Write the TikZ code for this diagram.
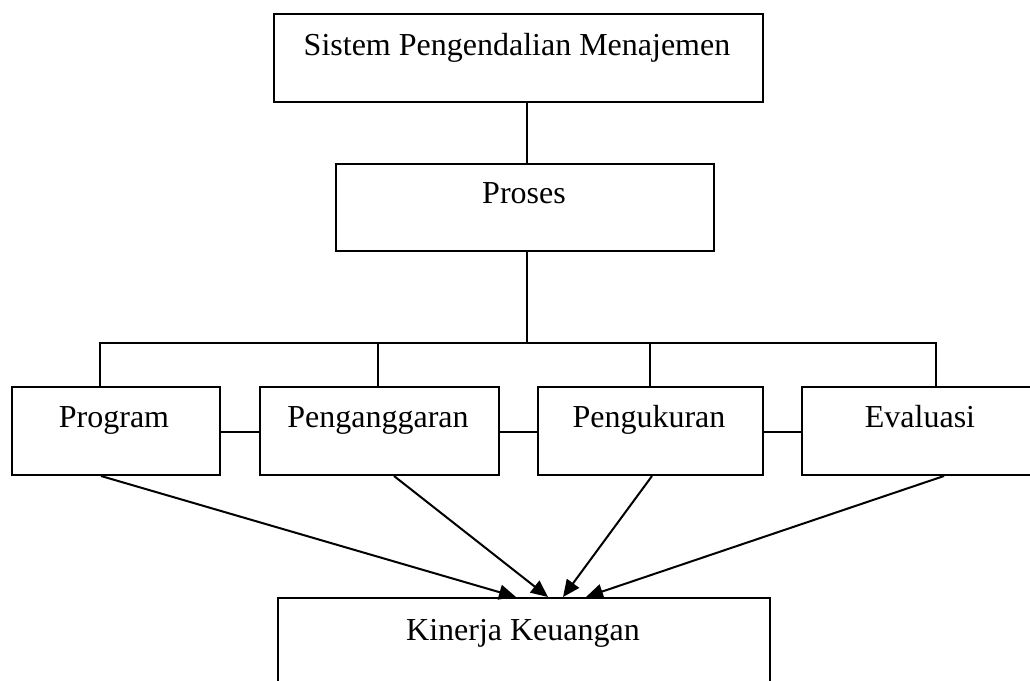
\documentclass[tikz,border=0pt]{standalone}
\usepackage{fontspec}
\setmainfont{Liberation Serif}
\usetikzlibrary{arrows.meta,calc}
\tikzset{
  box/.style={draw=black, line width=2pt, inner sep=0pt, anchor=north west},
  lbl/.style={anchor=base, inner sep=0pt, font=\fontsize{32}{38}\selectfont},
  conn/.style={line width=2pt},
  arr/.style={line width=2pt, -{Triangle[length=17pt,width=15pt]}}
}
\begin{document}
\begin{tikzpicture}[x=1pt,y=-1pt]
\useasboundingbox (0,0) rectangle (1030,680);
\clip (0,0) rectangle (1030,680);
\fill[white] (0,0) rectangle (1030,680);
% boxes
\node[box, minimum width=489pt, minimum height=88pt] (top) at (273,13) {};
\node[box, minimum width=378pt, minimum height=87pt] (pro) at (335,163) {};
\node[box, minimum width=208pt, minimum height=88pt] (prg) at (11,386) {};
\node[box, minimum width=239pt, minimum height=88pt] (ang) at (259,386) {};
\node[box, minimum width=225pt, minimum height=88pt] (uku) at (537,386) {};
\node[box, minimum width=260pt, minimum height=88pt] (eva) at (801,386) {};
\node[box, minimum width=492pt, minimum height=120pt] (kin) at (277,597) {};
% labels
\node[lbl] (topt) at (517,55) {Sistem Pengendalian Menajemen};
\node[lbl] (prot) at (524,203) {Proses};
\node[lbl] (prgt) at (114,427) {Program};
\node[lbl] (angt) at (378,427) {Penganggaran};
\node[lbl] (ukut) at (649,427) {Pengukuran};
\node[lbl] (evat) at (920,427) {Evaluasi};
\node[lbl] (kint) at (523,640) {Kinerja Keuangan};
% tree connectors
\coordinate (spine) at (527,343);
\coordinate (d1) at (100,343);
\coordinate (d2) at (378,343);
\coordinate (d3) at (650,343);
\coordinate (d4) at (936,343);
\draw[conn] (top.south -| spine) -- (pro.north -| spine);
\draw[conn] (pro.south -| spine) -- (spine);
\draw[conn, line cap=rect] (d1) -- (d4);
\draw[conn] (d1) -- (d1 |- prg.north);
\draw[conn] (d2) -- (d2 |- ang.north);
\draw[conn] (d3) -- (d3 |- uku.north);
\draw[conn] (d4) -- (d4 |- eva.north);
% side connectors
\coordinate (mid) at (0,432);
\draw[conn] (prg.east |- mid) -- (ang.west |- mid);
\draw[conn] (ang.east |- mid) -- (uku.west |- mid);
\draw[conn] (uku.east |- mid) -- (eva.west |- mid);
% arrows
\draw[arr] ([xshift=-15pt]prg.south) -- ([xshift=-8pt]kin.north);
\draw[arr] ([xshift=14.5pt]ang.south) -- ([xshift=24pt]kin.north);
\draw[arr] ([xshift=1.5pt]uku.south) -- ([xshift=39pt]kin.north);
\draw[arr] ([xshift=12pt]eva.south) -- ([xshift=62pt]kin.north);
\end{tikzpicture}
\end{document}
